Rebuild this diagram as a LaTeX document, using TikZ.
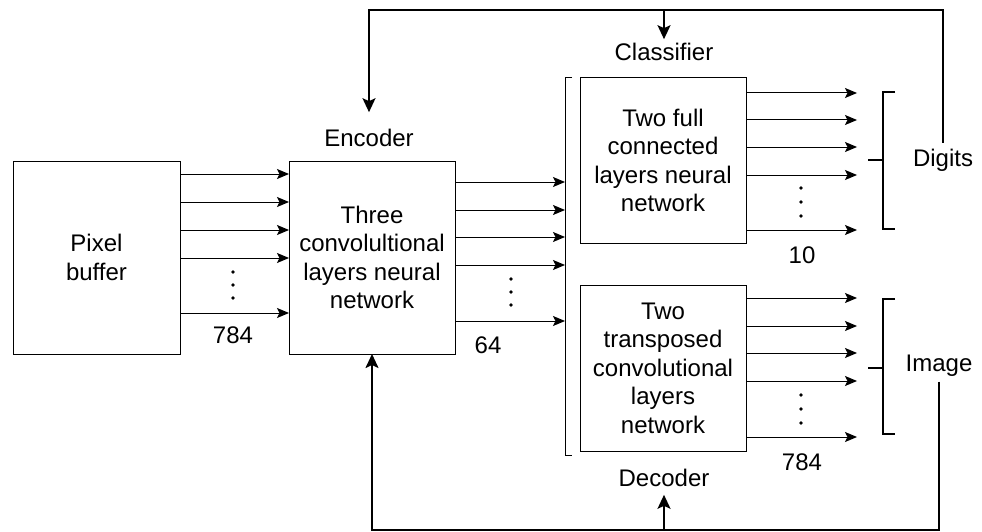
\documentclass[tikz,border=0pt]{standalone}
\usepackage{fontspec}
\setmainfont{Liberation Sans}
\usetikzlibrary{arrows.meta,calc}
\begin{document}
\begin{tikzpicture}[x=1pt,y=-1pt,
  every node/.style={font=\fontsize{24}{28.5}\selectfont},
  block/.style={draw,line width=1pt,align=center,inner sep=0pt,outer sep=0pt},
  lab/.style={inner sep=0pt,outer sep=0pt},
  arr/.style={line width=1pt,-{Stealth[length=12pt,width=10pt,inset=2.5pt]}},
  fb/.style={line width=2pt},
  fbarr/.style={line width=2pt,-{Stealth[length=14pt,width=13pt,inset=3pt]}},
  thinbrace/.style={line width=1pt},
  brace/.style={line width=2pt},
  dot/.style={fill=black}]
\useasboundingbox (0,0) rectangle (982,532);

% main blocks
\node[block,minimum width=167pt,minimum height=193pt] (pb) at (96.5,257.5) {Pixel\\buffer};
\node[block,minimum width=166pt,minimum height=193pt] (enc) at (372,257.5)
  {Three\\convolultional\\layers neural\\network};
\node[block,minimum width=166pt,minimum height=165pt] (cls) at (663,160.5)
  {Two full\\connected\\layers neural\\network};
\node[block,minimum width=166pt,minimum height=166pt] (dec) at (663,368)
  {Two\\transposed\\convolutional\\layers\\network};

% captions
\node[lab] (enclab) at (369,138) {Encoder};
\node[lab] (clslab) at (664,52) {Classifier};
\node[lab] (declab) at (664,478) {Decoder};
\node[lab] (dig) at (943,160) {Digits};
\node[lab] (img) at (939,366) {Image};
\node[lab] (n1) at (233,335) {784};
\node[lab] (n2) at (488,345) {64};
\node[lab] (n3) at (802,255) {10};
\node[lab] (n4) at (802,462) {784};

% thin bracket collecting the 64 features
\coordinate (bt) at (565,78);
\coordinate (bb) at (565,455);
\draw[thinbrace] ([xshift=7pt]bt) -- (bt) -- (bb) -- ([xshift=7pt]bb);

% output column
\coordinate (outx) at (857,0);

% pixel buffer -> encoder
\foreach \yy in {174,202,230,258,313}{
  \coordinate (t) at (0,\yy);
  \draw[arr] (pb.east |- t) -- (enc.west |- t);
}
% encoder -> bracket
\foreach \yy in {182,210,237,265,321}{
  \coordinate (t) at (0,\yy);
  \draw[arr] (enc.east |- t) -- (bt |- t);
}
% classifier outputs
\foreach \yy in {93,120,147,175,230}{
  \coordinate (t) at (0,\yy);
  \draw[arr] (cls.east |- t) -- (outx |- t);
}
% decoder outputs
\foreach \yy in {298,326,353,381,437}{
  \coordinate (t) at (0,\yy);
  \draw[arr] (dec.east |- t) -- (outx |- t);
}

% vertical ellipses
\foreach \yy in {272,285,298} \fill[dot] (233,\yy) circle (1.8);
\foreach \yy in {279,292,305} \fill[dot] (511,\yy) circle (1.8);
\foreach \yy in {188,202,216} \fill[dot] (801,\yy) circle (1.8);
\foreach \yy in {395,409,423} \fill[dot] (801,\yy) circle (1.8);

% output brackets
\draw[brace] (895,92) -- (883,92) -- (883,229) -- (895,229);
\draw[brace] (868,160) -- (883,160);
\draw[brace] (895,299) -- (883,299) -- (883,434) -- (895,434);
\draw[brace] (868,368) -- (883,368);

% feedback from the digits to encoder and classifier
\coordinate (topy) at (0,10);
\draw[fbarr] ([yshift=6pt]dig.north) -- (dig.north |- topy) -- (enclab.north |- topy)
  -- ([yshift=17pt]enclab.north);
\draw[fbarr] (clslab.north |- topy) -- ([yshift=4pt]clslab.north);

% feedback from the image to encoder and decoder
\coordinate (boty) at (0,530);
\draw[fbarr] ([yshift=-5pt]img.south) -- (img.south |- boty) -- (enc.south |- boty) -- (enc.south);
\draw[fbarr] (declab.south |- boty) -- ([yshift=-8pt]declab.south);
\end{tikzpicture}
\end{document}
